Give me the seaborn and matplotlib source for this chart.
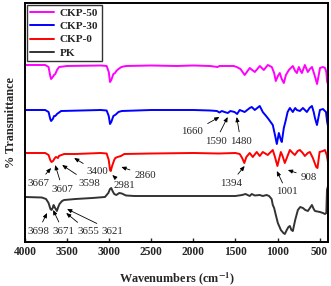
import matplotlib
matplotlib.use("Agg")
import matplotlib.pyplot as plt
import seaborn as sns
import pandas as pd

# ---------------- data ----------------
pk_wn = [4000, 3800, 3750, 3720, 3698, 3685, 3671, 3660, 3655, 3635, 3621, 3605, 3590, 3560, 3535,
         3400, 3200, 3050, 3010, 2990, 2975, 2960, 2940, 2915, 2880, 2850, 2800, 2700, 2000, 1500,
         1420, 1380, 1330, 1306, 1270, 1211, 1175, 1130, 1100, 1070, 1056, 1040, 1020, 996, 960,
         930, 913, 890, 870, 853, 835, 818, 790, 758, 730, 698, 670, 639, 615, 591, 570, 555,
         496, 460, 436, 420, 412, 400]
pk_t = [45, 44.5, 43, 39, 33, 32, 34, 37, 36, 33, 31, 35, 38, 41, 42,
        43, 44, 45, 49, 53, 54, 51, 48, 47, 49, 48.5, 46.5, 46, 46, 46,
        47, 48, 46, 48, 46.5, 47, 46, 47, 46, 43, 37, 34, 27, 19, 12,
        9, 8, 12, 15, 16, 12, 11, 22, 32, 35, 34, 32, 31, 34, 37, 33, 31,
        30, 29, 28, 29, 52, 56]

ckp0_wn = [4000, 3760, 3720, 3700, 3685, 3667, 3645, 3631, 3607, 3598, 3535, 3400, 3100, 3030, 3005,
           2990, 2981, 2965, 2940, 2927, 2900, 2860, 2820, 2500, 2000, 1700, 1500, 1449, 1420, 1394,
           1370, 1330, 1294, 1247, 1211, 1175, 1116, 1056, 1030, 1001, 984, 960, 940, 913, 890,
           853, 820, 794, 760, 734, 700, 675, 640, 615, 580, 540, 525, 500, 460, 436, 415, 400]
ckp0_t = [89, 89, 87, 82, 80, 81, 84, 85, 84, 86, 88, 88, 89, 88.5, 82,
          72, 71, 76, 82, 84, 85, 86, 88, 88.5, 89, 88.5, 89, 88, 84, 79,
          85, 89, 85, 90, 86, 90, 87, 92, 85, 76, 82, 90, 86, 79, 84,
          92, 89, 87, 91, 92, 89, 86, 89, 90, 84, 75, 74, 90, 91, 92, 87, 80]

ckp30_wn = [4000, 3760, 3720, 3700, 3690, 3670, 3654, 3640, 3620, 3571, 3100, 3030, 3005, 2990, 2975,
            2950, 2930, 2915, 2890, 2850, 2500, 2000, 1800, 1720, 1690, 1660, 1630, 1590, 1560, 1510,
            1480, 1449, 1390, 1330, 1306, 1270, 1211, 1175, 1116, 1056, 1030, 1008, 984, 960, 949,
            925, 901, 880, 853, 818, 790, 770, 734, 698, 651, 620, 591, 570, 555, 531, 496, 460,
            424, 410, 400]
ckp30_t = [132, 132, 130, 123, 121, 123, 126, 126, 128, 131, 132, 131.5, 126, 118, 120,
           126, 127, 128, 130, 131, 132, 132, 131.5, 131, 129.5, 131, 130, 129, 131, 130,
           128, 132, 130, 134, 135, 132, 136, 130, 124, 117, 107, 98, 109, 102, 100,
           114, 122, 130, 134, 130, 134, 132, 131, 134, 130, 134, 136, 130, 124, 117, 132, 133,
           130, 120, 116]

ckp50_wn = [4000, 3760, 3720, 3700, 3690, 3670, 3655, 3640, 3620, 3595, 3500, 3100, 3030, 3005, 2990,
            2975, 2950, 2930, 2915, 2890, 2855, 2800, 2500, 2200, 2000, 1800, 1712, 1690, 1600, 1520,
            1485, 1440, 1390, 1330, 1270, 1210, 1163, 1115, 1068, 1040, 1020, 995, 973, 950, 925,
            900, 865, 818, 790, 770, 746, 725, 710, 675, 640, 615, 590, 560, 530, 510, 495, 460,
            435, 420, 410, 400]
ckp50_t = [177, 177, 175, 166, 163, 165, 167, 168, 172, 175, 176, 176.5, 176, 170, 160,
           162, 168, 169, 171, 173, 175, 176, 176.5, 176, 176.5, 176, 175, 176, 176, 176,
           175, 173, 167, 174, 170, 176, 172, 177, 175, 169, 161, 166, 169, 163, 159,
           167, 172, 176, 171, 169, 175, 171, 169, 177, 170, 173, 175, 167, 158, 167, 174, 175,
           174, 170, 160, 158]

series_names = ["CKP-50", "CKP-30", "CKP-0", "PK"]
series_colors = ["#FF00FF", "#0000FF", "#FF0000", "#333333"]
x_ticks = [4000, 3500, 3000, 2500, 2000, 1500, 1000, 500]

# annotations: (label, tip wavenumber, tip value, text wavenumber, text value)
notes = [
    ("1660", 1690, 125, 2010, 110),
    ("1590", 1592, 125, 1735, 101),
    ("1480", 1485, 125, 1437, 101),
    ("3667", 3690, 74, 3845, 59),
    ("3607", 3642, 77, 3553, 53),
    ("3598", 3559, 77, 3237, 59),
    ("3400", 3416, 84, 3142, 70),
    ("2981", 2963, 67, 2820, 56),
    ("2860", 2856, 75, 2570, 67),
    ("1394", 1390, 76, 1557, 59),
    ("1001", 1008, 71, 889, 50),
    ("908", 877, 72, 627, 65),
    ("3698", 3738, 29, 3845, 11),
    ("3671", 3666, 32, 3547, 11),
    ("3655", 3511, 29, 3249, 11),
    ("3621", 3500, 33, 2963, 11),
]

# ---------------- build table ----------------
frames = []
for name, wn, t in [("PK", pk_wn, pk_t), ("CKP-0", ckp0_wn, ckp0_t),
                    ("CKP-30", ckp30_wn, ckp30_t), ("CKP-50", ckp50_wn, ckp50_t)]:
    frames.append(pd.DataFrame({"wn": wn, "T": t, "sample": name}))
df = pd.concat(frames, ignore_index=True)

sns.set_style("ticks")
plt.rcParams["font.family"] = ["Liberation Serif", "DejaVu Serif"]
plt.rcParams["mathtext.fontset"] = "stix"

fig = plt.figure(figsize=(3.31, 2.86), dpi=100)
ax = fig.add_axes([25 / 331, 44 / 286, 303 / 331, 239 / 286])

sns.lineplot(data=df, x="wn", y="T", hue="sample", hue_order=series_names,
             palette=dict(zip(series_names, series_colors)), sort=True,
             estimator=None, linewidth=1.4, ax=ax)

ax.set_xlim(4000, 400)
ax.set_ylim(0, 239)
ax.set_xticks(x_ticks)
ax.set_xticklabels([str(v) for v in x_ticks], fontweight="bold", fontsize=8.3)
ax.set_yticks([])
ax.tick_params(axis="x", direction="in", length=3, width=1, pad=3)
for s in ax.spines.values():
    s.set_linewidth(1.4)
    s.set_color("black")

ax.set_xlabel("Wavenumbers (cm$^{\\mathbf{-1}}$)", fontweight="bold", fontsize=8.8, labelpad=9)
ax.set_ylabel("% Transmittance", fontweight="bold", fontsize=8.8, labelpad=6)

for lab, tx, ty, lx, ly in notes:
    ax.annotate(lab, xy=(tx, ty), xytext=(lx, ly), fontsize=7.8, ha="center", va="center",
                arrowprops=dict(arrowstyle="-|>,head_length=0.35,head_width=0.15",
                                color="black", lw=0.6, shrinkA=1, shrinkB=0))

leg = ax.legend(loc="upper left", frameon=True, fancybox=False, edgecolor="black",
                prop={"weight": "bold", "size": 8}, handlelength=2.2, labelspacing=0.32,
                borderaxespad=0.15, borderpad=0.3, handletextpad=0.5)
leg.get_frame().set_linewidth(1.0)
for line in leg.get_lines():
    line.set_linewidth(1.4)

fig.savefig("out.png", dpi=100)
